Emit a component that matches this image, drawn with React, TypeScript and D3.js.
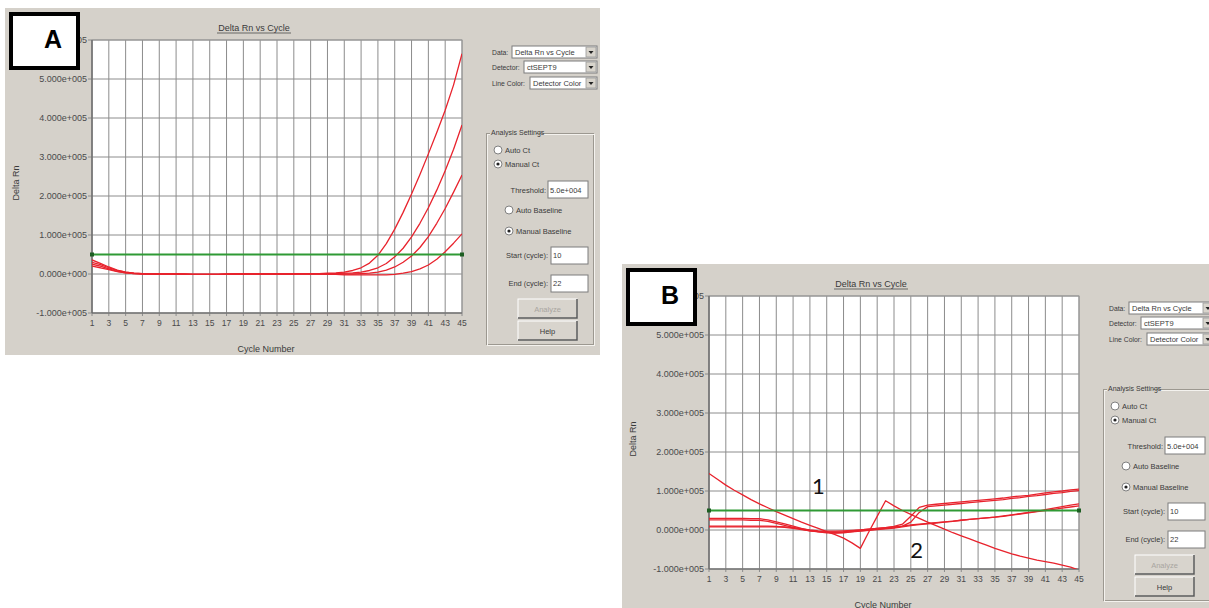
import React from "react";
import * as d3 from "d3";

// ---------- data ----------
const cycles = [1,2,3,4,5,6,7,8,9,10,11,12,13,14,15,16,17,18,19,20,21,22,23,24,25,26,27,28,29,30,31,32,33,34,35,36,37,38,39,40,41,42,43,44,45];
const xTickCycles = [1,3,5,7,9,11,13,15,17,19,21,23,25,27,29,31,33,35,37,39,41,43,45];
const yTicks = [-1e5, 0, 1e5, 2e5, 3e5, 4e5, 5e5, 6e5];
const threshold = 5.0e4;
const unit = 1e5; // curve values below are in units of 1e5

// Panel A – four amplification curves
const curveA1 = [0.36,0.27,0.18,0.1,0.05,0.02,0.01,0,0,0, 0,-0.01,-0.01,-0.01,-0.01,-0.01,-0.01,0,0,0, 0,0,0,0,0.01,0.01,0.01,0.01,0.02,0.03, 0.05,0.09,0.16,0.28,0.48,0.78,1.15,1.58,2.05,2.55, 3.08,3.63,4.2,4.85,5.65];
const curveA2 = [0.3,0.24,0.16,0.09,0.05,0.02,0.01,0,0,0, 0,0,-0.01,-0.01,-0.01,-0.01,0,0,0,0, 0,0,0,0,0,0.01,0.01,0.01,0.01,0.01, 0.02,0.03,0.05,0.09,0.16,0.27,0.44,0.66,0.95,1.3, 1.7,2.15,2.65,3.2,3.82];
const curveA3 = [0.25,0.2,0.13,0.07,0.03,0.01,0,0,0,0, 0,-0.01,-0.01,-0.01,-0.01,-0.01,-0.01,0,0,0, 0,0,0,0,0,0,0,0,0,0, 0,0,0.01,0.02,0.05,0.1,0.18,0.3,0.46,0.68, 0.96,1.3,1.68,2.1,2.54];
const curveA4 = [0.2,0.16,0.11,0.06,0.03,0.01,0,0,0,0, 0,0,-0.01,-0.01,-0.01,-0.01,0,0,0,0, 0,0,0,0,0,0,0,0,-0.01,-0.01, -0.02,-0.02,-0.02,-0.02,-0.02,-0.02,-0.01,0.02,0.06,0.13, 0.23,0.38,0.57,0.79,1.03];

// Panel B – five noisy, non-amplifying curves
const curveB1 = [1.45,1.3,1.15,1.02,0.9,0.78,0.67,0.57,0.47,0.38, 0.29,0.2,0.12,0.04,-0.04,-0.12,-0.21,-0.33,-0.47,-0.05, 0.35,0.75,0.62,0.5,0.4,0.3,0.2,0.11,0.02,-0.07, -0.15,-0.23,-0.31,-0.39,-0.47,-0.54,-0.61,-0.67,-0.72,-0.77, -0.81,-0.85,-0.9,-0.95,-1.03];
const curveB2 = [0.3,0.3,0.3,0.3,0.3,0.29,0.29,0.26,0.21,0.16, 0.1,0.04,-0.01,-0.04,-0.05,-0.05,-0.04,-0.02,0,0.02, 0.04,0.06,0.09,0.15,0.35,0.58,0.64,0.66,0.68,0.7, 0.72,0.74,0.76,0.78,0.8,0.82,0.85,0.87,0.89,0.92, 0.95,0.98,1.0,1.03,1.05];
const curveB3 = [0.26,0.26,0.26,0.26,0.26,0.25,0.25,0.22,0.17,0.12, 0.07,0.02,-0.02,-0.05,-0.07,-0.08,-0.07,-0.05,-0.03,-0.01, 0.01,0.03,0.05,0.08,0.11,0.14,0.16,0.18,0.2,0.22, 0.25,0.27,0.29,0.31,0.33,0.36,0.39,0.42,0.45,0.48, 0.52,0.56,0.6,0.64,0.67];
const curveB4 = [0.1,0.1,0.1,0.1,0.1,0.1,0.1,0.1,0.09,0.07, 0.04,0.01,-0.02,-0.04,-0.06,-0.07,-0.06,-0.04,-0.02,0, 0.02,0.04,0.06,0.1,0.2,0.45,0.6,0.62,0.64,0.66, 0.68,0.7,0.72,0.74,0.76,0.78,0.81,0.83,0.86,0.88, 0.91,0.94,0.96,0.99,1.01];
const curveB5 = [0.08,0.08,0.08,0.08,0.08,0.08,0.08,0.08,0.08,0.08, 0.06,0.03,0,-0.02,-0.03,-0.03,-0.02,-0.01,0,0.02, 0.04,0.06,0.08,0.1,0.13,0.15,0.17,0.19,0.21,0.23, 0.25,0.27,0.29,0.31,0.33,0.35,0.38,0.41,0.44,0.47, 0.5,0.53,0.56,0.59,0.62];

const curvesA = [curveA1, curveA2, curveA3, curveA4];
const curvesB = [curveB1, curveB2, curveB3, curveB4, curveB5];

// annotation labels on panel B: [text, cycle, value(×1e5)]
const notesB: [string, number, number][] = [["1", 14, 1.13], ["2", 25.7, -0.49]];

// UI texts
const titleText = "Delta Rn vs Cycle";
const xTitle = "Cycle Number";
const yTitle = "Delta Rn";
const comboLabels = ["Data:", "Detector:", "Line Color:"];
const comboValues = ["Delta Rn vs Cycle", "ctSEPT9", "Detector Color"];
const thresholdText = "5.0e+004";
const startCycle = "10";
const endCycle = "22";

// ---------- helpers ----------
function sci(v: number): string {
  if (v === 0) return "0.000e+000";
  const e = Math.floor(Math.log10(Math.abs(v)));
  const m = v / Math.pow(10, e);
  return `${m.toFixed(3)}e+${String(e).padStart(3, "0")}`;
}

const UI_FONT = "'Liberation Sans', Arial, sans-serif";
const BG = "#d5d1ca";
const TXT = "#3a3a3a";

function Radio({ cx, cy, checked }: { cx: number; cy: number; checked: boolean }) {
  return (
    <g>
      <circle cx={cx} cy={cy} r={4} fill="#fff" stroke="#808080" strokeWidth={1} />
      {checked && <circle cx={cx} cy={cy} r={1.6} fill="#222" />}
    </g>
  );
}

function Controls({ dx, dy }: { dx: number; dy: number }) {
  const combos = [
    { y: 46, bx: 512 },
    { y: 61, bx: 524 },
    { y: 77, bx: 530 },
  ];
  return (
    <g fontFamily={UI_FONT} fontSize={7.5} fill={TXT}>
      {combos.map((c, i) => (
        <g key={i}>
          <text x={492 + dx} y={c.y + 9 + dy} fontSize={6.8}>{comboLabels[i]}</text>
          <rect x={c.bx + dx} y={c.y + dy} width={597 - c.bx} height={12} fill="#fff" stroke="#7d7d7d" />
          <text x={c.bx + 3 + dx} y={c.y + 9 + dy} fontSize={7.5}>{comboValues[i]}</text>
          <rect x={586 + dx} y={c.y + 1 + dy} width={10} height={10} fill="#d8d4cc" stroke="#9a9a9a" strokeWidth={0.8} />
          <path d={`M${588.5 + dx},${c.y + 5 + dy} L${593.5 + dx},${c.y + 5 + dy} L${591 + dx},${c.y + 8 + dy} Z`} fill="#222" />
        </g>
      ))}
      {/* group box */}
      <rect x={486.5 + dx} y={133.5 + dy} width={107} height={211} fill="none" stroke="#9c9890" />
      <rect x={487.5 + dx} y={134.5 + dy} width={107} height={211} fill="none" stroke="#f4f2ee" />
      <rect x={490 + dx} y={128 + dy} width={46} height={10} fill={BG} />
      <text x={491 + dx} y={135 + dy} fontSize={7}>Analysis Settings</text>
      <Radio cx={498 + dx} cy={150 + dy} checked={false} />
      <text x={505 + dx} y={153 + dy}>Auto Ct</text>
      <Radio cx={498 + dx} cy={164 + dy} checked={true} />
      <text x={505 + dx} y={167 + dy}>Manual Ct</text>
      <text x={546 + dx} y={193 + dy} textAnchor="end">Threshold:</text>
      <rect x={548 + dx} y={181 + dy} width={40} height={17} fill="#fff" stroke="#7d7d7d" />
      <text x={550 + dx} y={193 + dy}>{thresholdText}</text>
      <Radio cx={509 + dx} cy={210 + dy} checked={false} />
      <text x={516 + dx} y={213 + dy}>Auto Baseline</text>
      <Radio cx={509 + dx} cy={231 + dy} checked={true} />
      <text x={516 + dx} y={234 + dy}>Manual Baseline</text>
      <text x={548 + dx} y={258 + dy} textAnchor="end">Start (cycle):</text>
      <rect x={551 + dx} y={247 + dy} width={37} height={17} fill="#fff" stroke="#7d7d7d" />
      <text x={553 + dx} y={258 + dy}>{startCycle}</text>
      <text x={548 + dx} y={286 + dy} textAnchor="end">End (cycle):</text>
      <rect x={551 + dx} y={275 + dy} width={37} height={17} fill="#fff" stroke="#7d7d7d" />
      <text x={553 + dx} y={286 + dy}>{endCycle}</text>
      {/* buttons */}
      {[{ y: 299, t: "Analyze", dis: true }, { y: 321, t: "Help", dis: false }].map((b, i) => (
        <g key={i}>
          <rect x={518 + dx} y={b.y + dy} width={59} height={19} fill="#d8d4cd" stroke="#fff" />
          <path d={`M${518 + dx},${b.y + 19 + dy} H${577 + dx} V${b.y + dy}`} stroke="#555" strokeWidth={1.5} fill="none" />
          <text x={547.5 + dx} y={b.y + 13 + dy} textAnchor="middle" fill={b.dis ? "#a8a5a0" : TXT}>{b.t}</text>
        </g>
      ))}
    </g>
  );
}

function Panel({ dx, dy, id, letter, curves, notes }: { dx: number; dy: number; id: string; letter: string; curves: number[][]; notes: [string, number, number][] }) {
  const L = 92 + dx, T = 40 + dy, R = 462 + dx, B = 313 + dy;
  const x = d3.scaleLinear().domain([1, 45]).range([L, R]);
  const y = d3.scaleLinear().domain([-1e5, 6e5]).range([B, T]);
  const line = d3.line<number>().x((_, i) => x(cycles[i])).y((d) => y(d * unit));
  return (
    <g>
      <rect x={5 + dx} y={8 + dy} width={595} height={347} fill={BG} />
      <defs>
        <clipPath id={`clip-${id}`}>
          <rect x={L} y={T} width={R - L} height={B - T} />
        </clipPath>
      </defs>
      <rect x={L} y={T} width={R - L} height={B - T} fill="#fff" />
      {/* grid */}
      {xTickCycles.map((c) => (
        <line key={`vx${c}`} x1={x(c)} x2={x(c)} y1={T} y2={B + 3} stroke="#8c8c8c" strokeWidth={1} />
      ))}
      {yTicks.map((v) => (
        <line key={`hy${v}`} x1={L - 4} x2={R} y1={y(v)} y2={y(v)} stroke="#8c8c8c" strokeWidth={1} />
      ))}
      <rect x={L} y={T} width={R - L} height={B - T} fill="none" stroke="#9a9a9a" />
      <line x1={L} x2={L} y1={T} y2={B} stroke="#666" strokeWidth={1.2} />
      <line x1={L} x2={R} y1={B} y2={B} stroke="#666" strokeWidth={1.2} />
      {/* y tick labels */}
      <g fontFamily={UI_FONT} fontSize={9} fill="#4a4a4a">
        {yTicks.map((v) => (
          <text key={`ty${v}`} x={L - 5} y={y(v) + 3} textAnchor="end">{sci(v)}</text>
        ))}
        {xTickCycles.map((c) => (
          <text key={`tx${c}`} x={x(c)} y={B + 13} textAnchor="middle" fontSize={8.5}>{c}</text>
        ))}
      </g>
      {/* titles */}
      <g fontFamily={UI_FONT} fontSize={9} fill={TXT}>
        <text x={254 + dx} y={31 + dy} textAnchor="middle">{titleText}</text>
        <line x1={254 + dx - 37} x2={254 + dx + 37} y1={33 + dy} y2={33 + dy} stroke={TXT} strokeWidth={0.7} />
        <text x={266 + dx} y={352 + dy} textAnchor="middle">{xTitle}</text>
        <text transform={`translate(${19 + dx},${183 + dy}) rotate(-90)`} textAnchor="middle">{yTitle}</text>
      </g>
      {/* data */}
      <g clipPath={`url(#clip-${id})`}>
        {curves.map((c, i) => (
          <path key={i} d={line(c) || ""} fill="none" stroke="#e8232d" strokeWidth={1.3} strokeLinejoin="round" />
        ))}
      </g>
      {/* threshold */}
      <line x1={L} x2={R} y1={y(threshold)} y2={y(threshold)} stroke="#2f9a35" strokeWidth={2.2} />
      <rect x={L - 2} y={y(threshold) - 2} width={4} height={4} fill="#1d5e22" />
      <rect x={R - 2} y={y(threshold) - 2} width={4} height={4} fill="#1d5e22" />
      {/* annotations */}
      {notes.map(([t, c, v]) => (
        <text key={t} x={x(c)} y={y(v * unit)} textAnchor="middle" dominantBaseline="central" fontFamily="Lato, 'Open Sans', sans-serif" fontSize={22} fill="#111">{t}</text>
      ))}
      <Controls dx={dx} dy={dy} />
      {/* letter box */}
      <rect x={11 + dx} y={14 + dy} width={67} height={54} fill="#fff" stroke="#000" strokeWidth={4} />
      <text x={53 + dx} y={39 + dy} textAnchor="middle" dominantBaseline="central" fontFamily="'Liberation Sans', Arial, sans-serif" fontWeight="bold" fontSize={25} fill="#000">{letter}</text>
    </g>
  );
}

export default function App() {
  return (
    <svg width={1209} height={608} style={{ position: "absolute", left: 0, top: 0, background: "#fff" }}>
      <Panel dx={0} dy={0} id="A" letter="A" curves={curvesA} notes={[]} />
      <Panel dx={617} dy={256} id="B" letter="B" curves={curvesB} notes={notesB} />
    </svg>
  );
}
